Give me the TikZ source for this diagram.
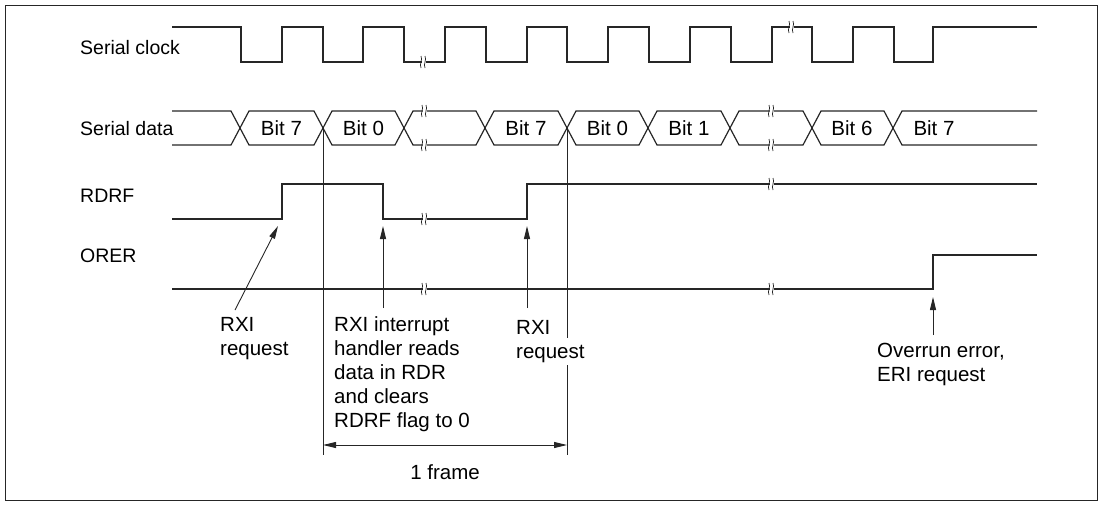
\documentclass[tikz,border=0pt]{standalone}
\usepackage{fontspec}
\setmainfont{Liberation Sans}
\usetikzlibrary{arrows.meta}
\begin{document}
\begin{tikzpicture}[x=1pt,y=-1pt,
  wave/.style={line width=1.2pt,line join=miter,black!85},
  guide/.style={line width=0.9pt,black!85},
  pointer/.style={line width=0.9pt,black!85,-{Triangle[length=13pt,width=6pt]}},
  dimline/.style={line width=0.9pt,black!85,{Triangle[length=13pt,width=6pt]}-{Triangle[length=13pt,width=6pt]}},
  lbl/.style={font=\fontsize{20.5}{24.2}\selectfont,inner sep=0pt,align=left},
  sig/.style={font=\fontsize{19.5}{23}\selectfont,inner sep=0pt,anchor=base west},
  wavebrk/.pic={
    \fill[white] (-2.2,-2.5) rectangle (2.2,2.5);
    \draw[line width=0.7pt,black!85] (-3,6) .. controls (-5,2) and (-1,-2) .. (-3,-6);
    \draw[line width=0.7pt,black!85] (1,6) .. controls (-1,2) and (3,-2) .. (1,-6);
  }]
\useasboundingbox (0,0) rectangle (1103,509);
\draw[line width=0.9pt,black!85] (5,5) rectangle (1097,500);

% labels
\node[sig] (lclk) at (80,54.5) {Serial clock};
\node[sig] (ldat) at (80,135) {Serial data};
\node[sig] (lrdrf) at (80,202.5) {RDRF};
\node[sig] (lorer) at (80,262.5) {ORER};

% serial clock
\draw[wave] (172,27) -- (241,27) |- (282,62) |- (323,27) |- (363,62) |- (404,27) |- (445,62)
  |- (486,27) |- (527,62) |- (567,27) |- (608,62) |- (649,27) |- (690,62) |- (731,27)
  |- (772,62) |- (812,27) |- (853,62) |- (894,27) |- (933,62) |- (1037,27);

% serial data
\draw[wave] (172,111) -- (231,111) -- (249,145) -- (314,145) -- (332,111) -- (395,111) -- (413,145)
  -- (476,145) -- (494,111) -- (558,111) -- (576,145) -- (639,145) -- (657,111) -- (721,111)
  -- (739,145) -- (803,145) -- (821,111) -- (884,111) -- (902,145) -- (1037,145);
\draw[wave] (172,145) -- (231,145) -- (249,111) -- (314,111) -- (332,145) -- (395,145) -- (413,111)
  -- (476,111) -- (494,145) -- (558,145) -- (576,111) -- (639,111) -- (657,145) -- (721,145)
  -- (739,111) -- (803,111) -- (821,145) -- (884,145) -- (902,111) -- (1037,111);
\node[lbl,anchor=base] (b1) at (281.5,135.5) {Bit 7};
\node[lbl,anchor=base] (b2) at (363.5,135.5) {Bit 0};
\node[lbl,anchor=base] (b3) at (526,135.5) {Bit 7};
\node[lbl,anchor=base] (b4) at (607.5,135.5) {Bit 0};
\node[lbl,anchor=base] (b5) at (689,135.5) {Bit 1};
\node[lbl,anchor=base] (b6) at (852,135.5) {Bit 6};
\node[lbl,anchor=base] (b7) at (934,135.5) {Bit 7};

% RDRF
\draw[wave] (172,219) -- (282,219) |- (383,184) |- (527,219) |- (1037,184);
% ORER
\draw[wave] (172,289) -- (933,289) |- (1037,255);

% breaks
\pic at (424,62) {wavebrk};
\pic at (792,27) {wavebrk};
\pic at (425,111) {wavebrk};
\pic at (425,145) {wavebrk};
\pic at (772,111) {wavebrk};
\pic at (772,145) {wavebrk};
\pic at (425,219) {wavebrk};
\pic at (772,184) {wavebrk};
\pic at (425,289) {wavebrk};
\pic at (772,289) {wavebrk};

% frame markers
\coordinate (v1t) at (323,128);
\coordinate (v1b) at (323,455);
\coordinate (v2t) at (567,128);
\coordinate (v2m1) at (567,338);
\coordinate (v2m2) at (567,365);
\coordinate (v2b) at (567,455);
\draw[guide] (v1t) -- (v1b);
\draw[guide] (v2t) -- (v2m1);
\draw[guide] (v2m2) -- (v2b);
\coordinate (d1) at (323,445);
\coordinate (d2) at (567,445);
\draw[dimline] (d1) -- (d2);
\node[lbl,anchor=base] (frame) at (445,479) {1 frame};

% annotations (base anchor = baseline of last line)
\node[lbl,anchor=base west] (t1) at (220,355.2) {RXI\\request};
\node[lbl,anchor=base west] (t2) at (334,427.8) {RXI interrupt\\handler reads\\data in RDR\\and clears\\RDRF flag to 0};
\node[lbl,anchor=base west] (t3) at (516,358.2) {RXI\\request};
\node[lbl,anchor=base west] (t4) at (877,381.2) {Overrun error,\\ERI request};

\coordinate (a1s) at (235,310);
\coordinate (a1e) at (278,226);
\coordinate (a2s) at (383,308);
\coordinate (a2e) at (383,226);
\coordinate (a3s) at (527,308);
\coordinate (a3e) at (527,226);
\coordinate (a4s) at (933,335);
\coordinate (a4e) at (933,297);
\draw[pointer] (a1s) -- (a1e);
\draw[pointer] (a2s) -- (a2e);
\draw[pointer] (a3s) -- (a3e);
\draw[pointer] (a4s) -- (a4e);
\end{tikzpicture}
\end{document}
